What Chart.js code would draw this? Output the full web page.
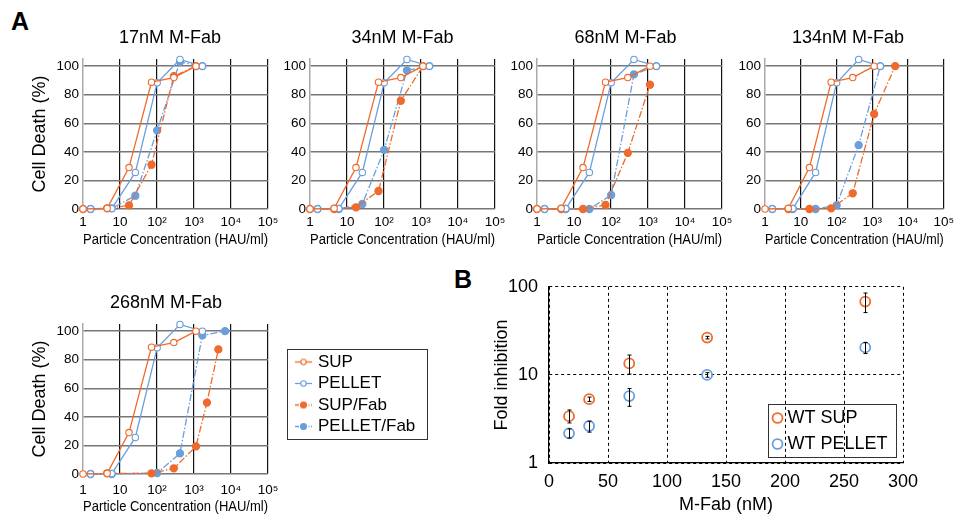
<!DOCTYPE html>
<html><head><meta charset="utf-8">
<script src="https://cdn.jsdelivr.net/npm/chart.js@4.4.1/dist/chart.umd.min.js"></script>
<style>
html,body{margin:0;padding:0;background:#fff;overflow:hidden}
#wrap{position:relative;width:959px;height:519px;overflow:hidden;background:#fff}
#wrap canvas{position:absolute}
.lab{position:absolute;font:bold 25px 'Liberation Sans',Arial,sans-serif;color:#000;line-height:1}
</style></head><body><div id="wrap">
<div class="lab" style="left:11px;top:9px">A</div>
<div class="lab" style="left:454px;top:267px">B</div>
</div>
<script>
// ---------- Panel A data ----------
const xTickValues = [1, 10, 100, 1000, 10000, 100000];
const xTickLabels = ['1', '10', '10²', '10³', '10⁴', '10⁵'];
const yTickValues = [0, 20, 40, 60, 80, 100];
const seriesNames = ['SUP', 'PELLET', 'SUP/Fab', 'PELLET/Fab'];

const supX = [1, 4.5, 17.5, 71, 285, 1130];
const supY = [0, 0.5, 29, 88.8, 92, 100];
const pelletX = [1.6, 6, 26, 101, 417, 1680];
const pelletY = [0, 0.3, 25.6, 88.4, 104.7, 100];

const supFab17X = [1, 4.5, 17.5, 71, 285, 1130];
const supFab17Y = [0, 0.5, 2.5, 31, 93, 100];
const pelletFab17X = [1.6, 6, 26, 101, 417, 1680];
const pelletFab17Y = [0, 0.5, 9.3, 55, 103, 100];

const supFab34X = [1, 4.5, 17.5, 71, 285, 1130];
const supFab34Y = [0, 0, 1.2, 12.6, 75.8, 100];
const pelletFab34X = [1.6, 6, 26, 101, 417, 1680];
const pelletFab34Y = [0, 0, 3.5, 41.4, 97, 100];

const supFab68X = [1, 4.5, 17.5, 71, 285, 1130];
const supFab68Y = [0, 0, 0, 2.8, 39.3, 87];
const pelletFab68X = [1.6, 6, 26, 101, 417, 1680];
const pelletFab68Y = [0, 0, 0, 9.8, 94.2, 100];

const supFab134X = [4.5, 17.5, 71, 285, 1130, 4400];
const supFab134Y = [0, 0, 0.5, 11, 66.5, 100];
const pelletFab134X = [1.6, 6, 26, 101, 417, 1680];
const pelletFab134Y = [0, 0, 0, 2.6, 44.7, 100];

const supFab268X = [4.5, 71, 285, 1130, 2240, 4550];
const supFab268Y = [0.5, 0.5, 4, 19.3, 50, 87.2];
const pelletFab268X = [1.6, 6, 101, 417, 1680, 6900];
const pelletFab268Y = [0, 0, 0.7, 14.4, 97, 100];

// ---------- Panel B data ----------
const mfabX = [17, 34, 68, 134, 268];
const bTickX = [0, 50, 100, 150, 200, 250, 300];
const bTickY = [1, 10, 100];
const bNames = ['WT SUP', 'WT PELLET'];
const supFold = [3.4, 5.3, 13.5, 26.5, 68];
const supErrLow = [2.85, 5.0, 10.2, 25.6, 51];
const supErrHigh = [4.0, 5.6, 16.8, 27.4, 85];
const pelletFold = [2.17, 2.63, 5.75, 10, 20.5];
const pelletErrLow = [1.92, 2.24, 4.4, 9.4, 17.5];
const pelletErrHigh = [2.44, 2.98, 7.0, 10.6, 23.3];

// ---------- styling ----------
const ORANGE = '#EF6A2C';
const BLUE = '#6A9EDC';
const FONT = "'Liberation Sans', Arial, Helvetica, sans-serif";
Chart.defaults.font.family = FONT;
Chart.defaults.color = '#000';
const wrap = document.getElementById('wrap');

function pts(xs, ys) { return xs.map((x, i) => ({x: x, y: ys[i]})); }
function addCanvas(left, top, w, h) {
  const c = document.createElement('canvas');
  c.width = w; c.height = h;
  c.style.left = left + 'px'; c.style.top = top + 'px';
  c.style.width = w + 'px'; c.style.height = h + 'px';
  wrap.appendChild(c);
  return c;
}
function lineDs(label, xs, ys, color, fab) {
  return {
    label: label, data: pts(xs, ys), borderColor: color, borderWidth: 1.3,
    borderDash: fab ? [7, 2, 1.5, 2] : [],
    pointRadius: fab ? 3.6 : 3.2, pointBorderWidth: 1.1,
    pointBackgroundColor: fab ? color : '#fff', pointBorderColor: color,
    fill: false, tension: 0, clip: false
  };
}

const panels = [
  {title: '17nM M-Fab', left: 0, top: 27, w: 340, h: 222, yW: 83, rW: 72, xH: 40, tp: 5, yTitle: true,
   sfX: supFab17X, sfY: supFab17Y, pfX: pelletFab17X, pfY: pelletFab17Y},
  {title: '34nM M-Fab', left: 250, top: 27, w: 305, h: 222, yW: 60, rW: 60, xH: 40, tp: 5, yTitle: false,
   sfX: supFab34X, sfY: supFab34Y, pfX: pelletFab34X, pfY: pelletFab34Y},
  {title: '68nM M-Fab', left: 477, top: 27, w: 297, h: 222, yW: 60, rW: 52, xH: 40, tp: 5, yTitle: false,
   sfX: supFab68X, sfY: supFab68Y, pfX: pelletFab68X, pfY: pelletFab68Y},
  {title: '134nM M-Fab', left: 737, top: 27, w: 222, h: 222, yW: 28, rW: 10, xH: 40, tp: 5, yTitle: false,
   sfX: supFab134X, sfY: supFab134Y, pfX: pelletFab134X, pfY: pelletFab134Y},
  {title: '268nM M-Fab', left: 0, top: 292, w: 332, h: 224, yW: 83, rW: 64, xH: 42, tp: 8, yTitle: true,
   sfX: supFab268X, sfY: supFab268Y, pfX: pelletFab268X, pfY: pelletFab268Y}
];

panels.forEach(p => {
  const c = addCanvas(p.left, p.top, p.w, p.h);
  new Chart(c, {
    type: 'line',
    data: {datasets: [
      lineDs(seriesNames[0], supX, supY, ORANGE, false),
      lineDs(seriesNames[1], pelletX, pelletY, BLUE, false),
      lineDs(seriesNames[2], p.sfX, p.sfY, ORANGE, true),
      lineDs(seriesNames[3], p.pfX, p.pfY, BLUE, true)
    ]},
    options: {
      responsive: false, animation: false, events: [],
      layout: {padding: 0},
      plugins: {
        legend: {display: false}, tooltip: {enabled: false},
        title: {display: true, text: p.title, color: '#000',
                font: {size: 18, weight: 'normal'}, padding: {top: 0, bottom: 10.4}}
      },
      scales: {
        x: {
          type: 'logarithmic', min: 1, max: 100000,
          afterBuildTicks: s => { s.ticks = xTickValues.map(v => ({value: v})); },
          ticks: {autoSkip: false, maxRotation: 0, padding: p.tp, color: '#000', font: {size: 13.5},
                  callback: (v, i) => xTickLabels[i]},
          grid: {drawTicks: false, lineWidth: 1.2,
                 color: ctx => (ctx.tick && ctx.tick.value === 1) ? 'rgba(0,0,0,0)' : '#111'},
          border: {display: false},
          title: {display: true, text: 'Particle Concentration (HAU/ml)', color: '#000',
                  font: {size: 14}, padding: {top: 0, bottom: 0}},
          afterFit: s => { s.height = p.xH; }
        },
        y: {
          min: 0, max: 105,
          afterBuildTicks: s => { s.ticks = yTickValues.map(v => ({value: v})); },
          ticks: {padding: 4, color: '#000', font: {size: 13.5}},
          grid: {drawTicks: false, color: '#777', lineWidth: 1.5},
          border: {display: true, color: '#aaa', width: 1.5},
          title: {display: p.yTitle, text: 'Cell Death (%)', color: '#000',
                  font: {size: 18}, padding: {top: 29.2, bottom: 0}},
          afterFit: s => { s.width = p.yW; }
        },
        pad: {
          type: 'linear', position: 'right', display: true,
          ticks: {display: false}, grid: {display: false, drawTicks: false},
          border: {display: false},
          afterFit: s => { s.width = p.rW; }
        }
      }
    }
  });
});

// ---------- legend-only charts ----------
function icon(color, filled, dashed) {
  const c = document.createElement('canvas');
  c.width = 17; c.height = 9;
  const g = c.getContext('2d');
  g.strokeStyle = color; g.lineWidth = 1.3;
  if (dashed) g.setLineDash([4, 1.5, 1, 1.5]);
  g.beginPath(); g.moveTo(0, 4.5); g.lineTo(17, 4.5); g.stroke();
  g.setLineDash([]);
  g.beginPath(); g.arc(8.5, 4.5, filled ? 3 : 2.7, 0, Math.PI * 2);
  g.fillStyle = filled ? color : '#fff'; g.fill();
  g.lineWidth = 1.1; g.stroke();
  return c;
}
const boxBorder = {
  id: 'boxBorder',
  afterDraw(chart, args, o) {
    const ctx = chart.ctx;
    ctx.save(); ctx.strokeStyle = o.color || '#333'; ctx.lineWidth = 1;
    ctx.strokeRect(o.x + 0.5, o.y + 0.5, o.w, o.h);
    ctx.restore();
  }
};

const iconsA = [icon(ORANGE, false, false), icon(BLUE, false, false), icon(ORANGE, true, true), icon(BLUE, true, true)];
const legendA = addCanvas(287, 349, 142, 104);
new Chart(legendA, {
  type: 'line',
  data: {datasets: seriesNames.map((n, i) => ({label: n, data: [], borderColor: i % 2 ? BLUE : ORANGE}))},
  options: {
    responsive: false, animation: false, events: [],
    layout: {padding: {left: 6, top: 0, right: 0, bottom: 0}},
    scales: {x: {display: false}, y: {display: false}},
    plugins: {
      tooltip: {enabled: false},
      boxBorder: {x: 0, y: 0, w: 140, h: 90, color: '#333'},
      legend: {
        display: true, position: 'left', align: 'start', maxWidth: 600,
        labels: {
          usePointStyle: true, pointStyleWidth: 12, padding: 4.5, color: '#000',
          font: {size: 17},
          generateLabels: ch => ch.data.datasets.map((d, i) => ({
            text: d.label, pointStyle: iconsA[i], fillStyle: d.borderColor,
            strokeStyle: d.borderColor, lineWidth: 0, hidden: false, datasetIndex: i, fontColor: '#000'}))
        }
      }
    }
  },
  plugins: [boxBorder]
});

// ---------- Panel B ----------
const errorBars = {
  id: 'errorBars',
  afterDatasetsDraw(chart) {
    const ctx = chart.ctx, xs = chart.scales.x, ys = chart.scales.y;
    chart.data.datasets.forEach(ds => {
      if (!ds.errLow) return;
      ctx.save(); ctx.strokeStyle = '#000'; ctx.lineWidth = 1;
      ds.data.forEach((pt, i) => {
        const x = Math.round(xs.getPixelForValue(pt.x)) + 0.5;
        const y1 = ys.getPixelForValue(ds.errLow[i]);
        const y2 = ys.getPixelForValue(ds.errHigh[i]);
        ctx.beginPath();
        ctx.moveTo(x, y1); ctx.lineTo(x, y2);
        ctx.moveTo(x - 2, y1); ctx.lineTo(x + 2, y1);
        ctx.moveTo(x - 2, y2); ctx.lineTo(x + 2, y2);
        ctx.stroke();
      });
      ctx.restore();
    });
  }
};

const bCanvas = addCanvas(470, 265, 489, 254);
new Chart(bCanvas, {
  type: 'scatter',
  data: {datasets: [
    {label: bNames[0], data: pts(mfabX, supFold), errLow: supErrLow, errHigh: supErrHigh,
     borderColor: ORANGE, backgroundColor: 'rgba(0,0,0,0)', pointRadius: 5, pointBorderWidth: 1.8, clip: false},
    {label: bNames[1], data: pts(mfabX, pelletFold), errLow: pelletErrLow, errHigh: pelletErrHigh,
     borderColor: BLUE, backgroundColor: 'rgba(0,0,0,0)', pointRadius: 5, pointBorderWidth: 1.8, clip: false}
  ]},
  options: {
    responsive: false, animation: false, events: [],
    layout: {padding: {left: 0, top: 14, right: 56, bottom: 0}},
    plugins: {legend: {display: false}, tooltip: {enabled: false}},
    scales: {
      x: {
        type: 'linear', min: 0, max: 300,
        afterBuildTicks: s => { s.ticks = bTickX.map(v => ({value: v})); },
        ticks: {padding: 8, color: '#000', font: {size: 18}, maxRotation: 0, autoSkip: false},
        grid: {drawTicks: false, color: '#000', lineWidth: 1},
        border: {display: true, color: '#000', width: 1.2, dash: [3, 3]},
        title: {display: true, text: 'M-Fab (nM)', color: '#000', font: {size: 18}, padding: {top: 0, bottom: 3}},
        afterFit: s => { s.height = 56; }
      },
      y: {
        type: 'logarithmic', min: 1, max: 100,
        afterBuildTicks: s => { s.ticks = bTickY.map(v => ({value: v})); },
        ticks: {padding: 11, color: '#000', font: {size: 18}, callback: (v, i) => String(bTickY[i])},
        grid: {drawTicks: false, color: '#000', lineWidth: 1},
        border: {display: true, color: '#000', width: 1.2, dash: [3, 3]},
        title: {display: true, text: 'Fold inhibition', color: '#000', font: {size: 18}, padding: {top: 21, bottom: 0}},
        afterFit: s => { s.width = 79; }
      }
    }
  },
  plugins: [errorBars]
});

const legendB = addCanvas(768, 401, 130, 64);
new Chart(legendB, {
  type: 'scatter',
  data: {datasets: bNames.map((n, i) => ({label: n, data: [], borderColor: i ? BLUE : ORANGE}))},
  options: {
    responsive: false, animation: false, events: [],
    layout: {padding: {left: 0.5, top: 0, right: 0, bottom: 0}},
    scales: {x: {display: false}, y: {display: false}},
    plugins: {
      tooltip: {enabled: false},
      boxBorder: {x: 0, y: 3, w: 128, h: 53, color: '#333'},
      legend: {
        display: true, position: 'left', align: 'start', maxWidth: 600,
        labels: {
          usePointStyle: true, boxWidth: 2, boxHeight: 7, padding: 8, color: '#000',
          font: {size: 18},
          generateLabels: ch => ch.data.datasets.map((d, i) => ({
            text: d.label, pointStyle: 'circle', fillStyle: 'rgba(0,0,0,0)',
            strokeStyle: d.borderColor, lineWidth: 1.8, hidden: false, datasetIndex: i, fontColor: '#000'}))
        }
      }
    }
  },
  plugins: [boxBorder]
});
</script></body></html>
